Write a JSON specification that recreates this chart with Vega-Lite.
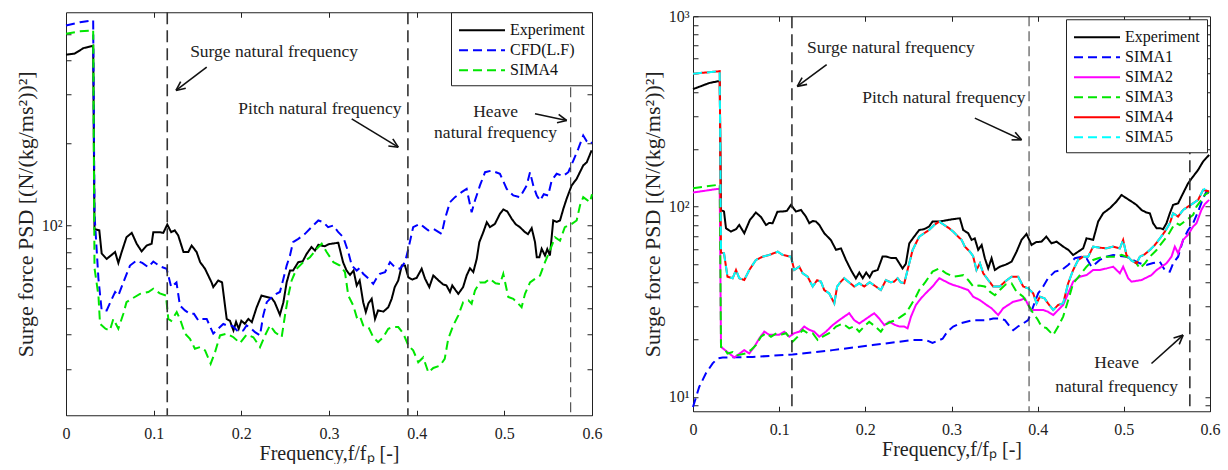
{
 "$schema": "https://vega.github.io/schema/vega-lite/v6.json",
 "background": "white",
 "padding": {"left": 13, "top": 7, "right": 0, "bottom": 0},
 "spacing": 37,
 "center": true,
 "config": {
  "font": "Liberation Serif",
  "view": {"stroke": "#222", "strokeWidth": 1},
  "axis": {"domain": false, "grid": false, "tickColor": "#222", "tickSize": -5, "tickWidth": 1, "labelFont": "Liberation Serif", "labelFontSize": 16, "labelColor": "#222", "titleFont": "Liberation Serif", "titleFontSize": 20, "titleFontWeight": "normal", "titleColor": "#222", "labelOverlap": false},
  "legend": {"title": null, "padding": 7, "strokeColor": "#222", "fillColor": "white", "symbolType": "M-2.3,0H2.3", "symbolSize": 400, "symbolStrokeWidth": 2, "labelFont": "Liberation Serif", "labelFontSize": 16, "labelColor": "#111", "labelOffset": 17, "symbolOffset": 13, "rowPadding": 1, "cornerRadius": 0}
 },
 "datasets": {
  "L": [
   {"s":"Experiment","f":0,"v":420},{"s":"Experiment","f":0.01,"v":424},{"s":"Experiment","f":0.02,"v":444},{"s":"Experiment","f":0.029,"v":451},{"s":"Experiment","f":0.031,"v":453},{"s":"Experiment","f":0.0325,"v":97},{"s":"Experiment","f":0.038,"v":96},{"s":"Experiment","f":0.0407,"v":79},{"s":"Experiment","f":0.0464,"v":75.5},{"s":"Experiment","f":0.056,"v":80},{"s":"Experiment","f":0.0597,"v":73},{"s":"Experiment","f":0.0635,"v":80},{"s":"Experiment","f":0.069,"v":90.6},{"s":"Experiment","f":0.075,"v":94},{"s":"Experiment","f":0.0806,"v":85.8},{"s":"Experiment","f":0.0863,"v":80.4},{"s":"Experiment","f":0.092,"v":84.5},{"s":"Experiment","f":0.0977,"v":85.8},{"s":"Experiment","f":0.0996,"v":94.5},{"s":"Experiment","f":0.107,"v":94.5},{"s":"Experiment","f":0.111,"v":94},{"s":"Experiment","f":0.1155,"v":100.8},{"s":"Experiment","f":0.12,"v":94.5},{"s":"Experiment","f":0.124,"v":96},{"s":"Experiment","f":0.128,"v":92},{"s":"Experiment","f":0.134,"v":80},{"s":"Experiment","f":0.1395,"v":80},{"s":"Experiment","f":0.1433,"v":84.5},{"s":"Experiment","f":0.149,"v":80},{"s":"Experiment","f":0.153,"v":73.5},{"s":"Experiment","f":0.1586,"v":69.5},{"s":"Experiment","f":0.166,"v":62},{"s":"Experiment","f":0.168,"v":59.6},{"s":"Experiment","f":0.1737,"v":63},{"s":"Experiment","f":0.178,"v":62},{"s":"Experiment","f":0.1833,"v":45.6},{"s":"Experiment","f":0.187,"v":44.9},{"s":"Experiment","f":0.191,"v":41.4},{"s":"Experiment","f":0.194,"v":44.5},{"s":"Experiment","f":0.197,"v":42},{"s":"Experiment","f":0.2,"v":44.9},{"s":"Experiment","f":0.204,"v":43.8},{"s":"Experiment","f":0.208,"v":45.6},{"s":"Experiment","f":0.212,"v":44.4},{"s":"Experiment","f":0.2175,"v":50.3},{"s":"Experiment","f":0.223,"v":55.5},{"s":"Experiment","f":0.2346,"v":54.3},{"s":"Experiment","f":0.238,"v":52.5},{"s":"Experiment","f":0.244,"v":47.2},{"s":"Experiment","f":0.248,"v":52.5},{"s":"Experiment","f":0.2517,"v":62},{"s":"Experiment","f":0.2555,"v":68.5},{"s":"Experiment","f":0.259,"v":68.5},{"s":"Experiment","f":0.265,"v":73.5},{"s":"Experiment","f":0.27,"v":74},{"s":"Experiment","f":0.2745,"v":78.8},{"s":"Experiment","f":0.28,"v":83.4},{"s":"Experiment","f":0.284,"v":81},{"s":"Experiment","f":0.2878,"v":85},{"s":"Experiment","f":0.295,"v":84},{"s":"Experiment","f":0.3,"v":85.5},{"s":"Experiment","f":0.305,"v":86},{"s":"Experiment","f":0.3106,"v":86.5},{"s":"Experiment","f":0.316,"v":73.5},{"s":"Experiment","f":0.32,"v":68.5},{"s":"Experiment","f":0.324,"v":66},{"s":"Experiment","f":0.328,"v":68.5},{"s":"Experiment","f":0.3316,"v":60.4},{"s":"Experiment","f":0.335,"v":63},{"s":"Experiment","f":0.339,"v":52.5},{"s":"Experiment","f":0.342,"v":48.3},{"s":"Experiment","f":0.345,"v":52},{"s":"Experiment","f":0.3487,"v":54},{"s":"Experiment","f":0.3525,"v":45.6},{"s":"Experiment","f":0.356,"v":49},{"s":"Experiment","f":0.362,"v":48.5},{"s":"Experiment","f":0.3676,"v":50.3},{"s":"Experiment","f":0.3715,"v":54},{"s":"Experiment","f":0.375,"v":59.6},{"s":"Experiment","f":0.379,"v":63},{"s":"Experiment","f":0.383,"v":71.4},{"s":"Experiment","f":0.3867,"v":71.4},{"s":"Experiment","f":0.3905,"v":64.7},{"s":"Experiment","f":0.395,"v":63.5},{"s":"Experiment","f":0.4,"v":64.4},{"s":"Experiment","f":0.4057,"v":69.5},{"s":"Experiment","f":0.4095,"v":64},{"s":"Experiment","f":0.4144,"v":59.6},{"s":"Experiment","f":0.419,"v":65.7},{"s":"Experiment","f":0.425,"v":63},{"s":"Experiment","f":0.43,"v":61},{"s":"Experiment","f":0.434,"v":60.4},{"s":"Experiment","f":0.438,"v":57.2},{"s":"Experiment","f":0.4406,"v":60.4},{"s":"Experiment","f":0.4445,"v":58},{"s":"Experiment","f":0.4475,"v":56.3},{"s":"Experiment","f":0.453,"v":59.6},{"s":"Experiment","f":0.457,"v":65.7},{"s":"Experiment","f":0.4608,"v":69.8},{"s":"Experiment","f":0.4646,"v":67.6},{"s":"Experiment","f":0.4685,"v":75.5},{"s":"Experiment","f":0.4715,"v":87},{"s":"Experiment","f":0.476,"v":94.5},{"s":"Experiment","f":0.48,"v":102.8},{"s":"Experiment","f":0.4836,"v":98.6},{"s":"Experiment","f":0.4893,"v":101.4},{"s":"Experiment","f":0.495,"v":110.3},{"s":"Experiment","f":0.4988,"v":114.4},{"s":"Experiment","f":0.5034,"v":112.5},{"s":"Experiment","f":0.5084,"v":105.8},{"s":"Experiment","f":0.513,"v":101},{"s":"Experiment","f":0.5178,"v":98.6},{"s":"Experiment","f":0.5236,"v":94.5},{"s":"Experiment","f":0.527,"v":93},{"s":"Experiment","f":0.5312,"v":97.8},{"s":"Experiment","f":0.535,"v":87},{"s":"Experiment","f":0.537,"v":76.6},{"s":"Experiment","f":0.54,"v":76.6},{"s":"Experiment","f":0.5426,"v":82.2},{"s":"Experiment","f":0.5464,"v":77.7},{"s":"Experiment","f":0.549,"v":82},{"s":"Experiment","f":0.552,"v":77.7},{"s":"Experiment","f":0.5558,"v":104.3},{"s":"Experiment","f":0.5597,"v":103},{"s":"Experiment","f":0.5635,"v":104.3},{"s":"Experiment","f":0.5673,"v":115},{"s":"Experiment","f":0.571,"v":125},{"s":"Experiment","f":0.5768,"v":140},{"s":"Experiment","f":0.5825,"v":148},{"s":"Experiment","f":0.586,"v":156},{"s":"Experiment","f":0.59,"v":165.6},{"s":"Experiment","f":0.594,"v":170},{"s":"Experiment","f":0.5996,"v":188},
   {"s":"CFD(L.F)","f":0,"v":537},{"s":"CFD(L.F)","f":0.016,"v":552},{"s":"CFD(L.F)","f":0.029,"v":560},{"s":"CFD(L.F)","f":0.031,"v":561},{"s":"CFD(L.F)","f":0.0325,"v":110},{"s":"CFD(L.F)","f":0.037,"v":63.9},{"s":"CFD(L.F)","f":0.0407,"v":49},{"s":"CFD(L.F)","f":0.0464,"v":49},{"s":"CFD(L.F)","f":0.05,"v":52},{"s":"CFD(L.F)","f":0.056,"v":57.2},{"s":"CFD(L.F)","f":0.0597,"v":55.5},{"s":"CFD(L.F)","f":0.0654,"v":62},{"s":"CFD(L.F)","f":0.073,"v":71.4},{"s":"CFD(L.F)","f":0.0806,"v":74.5},{"s":"CFD(L.F)","f":0.087,"v":73},{"s":"CFD(L.F)","f":0.0939,"v":70.4},{"s":"CFD(L.F)","f":0.0996,"v":73.9},{"s":"CFD(L.F)","f":0.107,"v":71},{"s":"CFD(L.F)","f":0.1148,"v":69.5},{"s":"CFD(L.F)","f":0.12,"v":59.6},{"s":"CFD(L.F)","f":0.126,"v":62},{"s":"CFD(L.F)","f":0.13,"v":51},{"s":"CFD(L.F)","f":0.1357,"v":49},{"s":"CFD(L.F)","f":0.1414,"v":47.6},{"s":"CFD(L.F)","f":0.146,"v":47.6},{"s":"CFD(L.F)","f":0.151,"v":45},{"s":"CFD(L.F)","f":0.1555,"v":45.6},{"s":"CFD(L.F)","f":0.1605,"v":45.6},{"s":"CFD(L.F)","f":0.168,"v":40.3},{"s":"CFD(L.F)","f":0.1737,"v":42},{"s":"CFD(L.F)","f":0.1794,"v":43.7},{"s":"CFD(L.F)","f":0.1833,"v":43.2},{"s":"CFD(L.F)","f":0.19,"v":43},{"s":"CFD(L.F)","f":0.1965,"v":41},{"s":"CFD(L.F)","f":0.2022,"v":41.4},{"s":"CFD(L.F)","f":0.206,"v":43.2},{"s":"CFD(L.F)","f":0.2115,"v":42},{"s":"CFD(L.F)","f":0.2156,"v":40.8},{"s":"CFD(L.F)","f":0.2213,"v":39.7},{"s":"CFD(L.F)","f":0.225,"v":47},{"s":"CFD(L.F)","f":0.229,"v":52.5},{"s":"CFD(L.F)","f":0.2365,"v":55.5},{"s":"CFD(L.F)","f":0.244,"v":57.2},{"s":"CFD(L.F)","f":0.248,"v":63.9},{"s":"CFD(L.F)","f":0.2517,"v":71.4},{"s":"CFD(L.F)","f":0.2555,"v":77.7},{"s":"CFD(L.F)","f":0.259,"v":87},{"s":"CFD(L.F)","f":0.265,"v":89.4},{"s":"CFD(L.F)","f":0.2726,"v":93.2},{"s":"CFD(L.F)","f":0.28,"v":98.6},{"s":"CFD(L.F)","f":0.2878,"v":104.3},{"s":"CFD(L.F)","f":0.2935,"v":102.8},{"s":"CFD(L.F)","f":0.299,"v":98.6},{"s":"CFD(L.F)","f":0.305,"v":100},{"s":"CFD(L.F)","f":0.3106,"v":94.5},{"s":"CFD(L.F)","f":0.3163,"v":90.6},{"s":"CFD(L.F)","f":0.322,"v":80},{"s":"CFD(L.F)","f":0.326,"v":71.4},{"s":"CFD(L.F)","f":0.3316,"v":68.5},{"s":"CFD(L.F)","f":0.335,"v":70},{"s":"CFD(L.F)","f":0.339,"v":66.6},{"s":"CFD(L.F)","f":0.345,"v":64},{"s":"CFD(L.F)","f":0.3505,"v":61.2},{"s":"CFD(L.F)","f":0.354,"v":64},{"s":"CFD(L.F)","f":0.358,"v":66.6},{"s":"CFD(L.F)","f":0.3639,"v":67.6},{"s":"CFD(L.F)","f":0.3696,"v":73.5},{"s":"CFD(L.F)","f":0.375,"v":70.5},{"s":"CFD(L.F)","f":0.381,"v":69.5},{"s":"CFD(L.F)","f":0.3867,"v":73.5},{"s":"CFD(L.F)","f":0.3905,"v":82.2},{"s":"CFD(L.F)","f":0.396,"v":98.6},{"s":"CFD(L.F)","f":0.4038,"v":101.4},{"s":"CFD(L.F)","f":0.4095,"v":98},{"s":"CFD(L.F)","f":0.4133,"v":95.9},{"s":"CFD(L.F)","f":0.419,"v":97.3},{"s":"CFD(L.F)","f":0.4285,"v":93.2},{"s":"CFD(L.F)","f":0.4323,"v":105.8},{"s":"CFD(L.F)","f":0.438,"v":121.6},{"s":"CFD(L.F)","f":0.4437,"v":126.9},{"s":"CFD(L.F)","f":0.4513,"v":132.3},{"s":"CFD(L.F)","f":0.457,"v":136},{"s":"CFD(L.F)","f":0.4627,"v":111.8},{"s":"CFD(L.F)","f":0.4665,"v":123.3},{"s":"CFD(L.F)","f":0.4722,"v":140},{"s":"CFD(L.F)","f":0.478,"v":156.5},{"s":"CFD(L.F)","f":0.4856,"v":158.6},{"s":"CFD(L.F)","f":0.495,"v":154.4},{"s":"CFD(L.F)","f":0.5027,"v":136},{"s":"CFD(L.F)","f":0.5102,"v":128.7},{"s":"CFD(L.F)","f":0.5178,"v":126.9},{"s":"CFD(L.F)","f":0.5255,"v":140},{"s":"CFD(L.F)","f":0.5293,"v":156.5},{"s":"CFD(L.F)","f":0.533,"v":140},{"s":"CFD(L.F)","f":0.537,"v":128.7},{"s":"CFD(L.F)","f":0.5407,"v":123.3},{"s":"CFD(L.F)","f":0.545,"v":130},{"s":"CFD(L.F)","f":0.55,"v":128.7},{"s":"CFD(L.F)","f":0.554,"v":146},{"s":"CFD(L.F)","f":0.5597,"v":154.4},{"s":"CFD(L.F)","f":0.567,"v":151.5},{"s":"CFD(L.F)","f":0.573,"v":156.5},{"s":"CFD(L.F)","f":0.5787,"v":172.6},{"s":"CFD(L.F)","f":0.5844,"v":190.6},{"s":"CFD(L.F)","f":0.59,"v":213},{"s":"CFD(L.F)","f":0.594,"v":203},{"s":"CFD(L.F)","f":0.5977,"v":198.5},{"s":"CFD(L.F)","f":0.6,"v":201},
   {"s":"SIMA4","f":0,"v":501},{"s":"SIMA4","f":0.016,"v":511},{"s":"SIMA4","f":0.029,"v":515},{"s":"SIMA4","f":0.031,"v":516},{"s":"SIMA4","f":0.0325,"v":70},{"s":"SIMA4","f":0.037,"v":55.5},{"s":"SIMA4","f":0.0388,"v":43.8},{"s":"SIMA4","f":0.045,"v":42},{"s":"SIMA4","f":0.05,"v":41.4},{"s":"SIMA4","f":0.054,"v":45.6},{"s":"SIMA4","f":0.0597,"v":42},{"s":"SIMA4","f":0.0654,"v":47.6},{"s":"SIMA4","f":0.069,"v":52.5},{"s":"SIMA4","f":0.075,"v":54},{"s":"SIMA4","f":0.0844,"v":56.3},{"s":"SIMA4","f":0.0939,"v":57.2},{"s":"SIMA4","f":0.0996,"v":58.8},{"s":"SIMA4","f":0.107,"v":56.5},{"s":"SIMA4","f":0.114,"v":55.5},{"s":"SIMA4","f":0.1167,"v":45.6},{"s":"SIMA4","f":0.12,"v":44.9},{"s":"SIMA4","f":0.1263,"v":48.3},{"s":"SIMA4","f":0.13,"v":45.6},{"s":"SIMA4","f":0.1357,"v":40.3},{"s":"SIMA4","f":0.1414,"v":38.6},{"s":"SIMA4","f":0.147,"v":35.5},{"s":"SIMA4","f":0.153,"v":36},{"s":"SIMA4","f":0.1586,"v":35},{"s":"SIMA4","f":0.165,"v":31.3},{"s":"SIMA4","f":0.17,"v":34.5},{"s":"SIMA4","f":0.1757,"v":39.7},{"s":"SIMA4","f":0.1833,"v":40.3},{"s":"SIMA4","f":0.191,"v":39.1},{"s":"SIMA4","f":0.1985,"v":37.2},{"s":"SIMA4","f":0.206,"v":40},{"s":"SIMA4","f":0.2137,"v":39.1},{"s":"SIMA4","f":0.2213,"v":36},{"s":"SIMA4","f":0.227,"v":39.7},{"s":"SIMA4","f":0.2327,"v":43.2},{"s":"SIMA4","f":0.2384,"v":40.8},{"s":"SIMA4","f":0.246,"v":39.1},{"s":"SIMA4","f":0.2498,"v":47},{"s":"SIMA4","f":0.2536,"v":55.5},{"s":"SIMA4","f":0.2574,"v":63},{"s":"SIMA4","f":0.263,"v":69.5},{"s":"SIMA4","f":0.2707,"v":73.5},{"s":"SIMA4","f":0.2783,"v":76.6},{"s":"SIMA4","f":0.286,"v":82.2},{"s":"SIMA4","f":0.2917,"v":85.8},{"s":"SIMA4","f":0.2973,"v":80},{"s":"SIMA4","f":0.305,"v":73.5},{"s":"SIMA4","f":0.3125,"v":71.4},{"s":"SIMA4","f":0.3182,"v":67.6},{"s":"SIMA4","f":0.322,"v":55.5},{"s":"SIMA4","f":0.3277,"v":51},{"s":"SIMA4","f":0.3316,"v":46.3},{"s":"SIMA4","f":0.335,"v":47},{"s":"SIMA4","f":0.339,"v":43.2},{"s":"SIMA4","f":0.345,"v":42.6},{"s":"SIMA4","f":0.3505,"v":39.1},{"s":"SIMA4","f":0.356,"v":37.5},{"s":"SIMA4","f":0.362,"v":39.1},{"s":"SIMA4","f":0.3676,"v":42},{"s":"SIMA4","f":0.373,"v":42.6},{"s":"SIMA4","f":0.379,"v":42.6},{"s":"SIMA4","f":0.3848,"v":40.3},{"s":"SIMA4","f":0.3905,"v":36.5},{"s":"SIMA4","f":0.396,"v":35},{"s":"SIMA4","f":0.4018,"v":31.7},{"s":"SIMA4","f":0.4075,"v":33},{"s":"SIMA4","f":0.4133,"v":29.1},{"s":"SIMA4","f":0.419,"v":30.2},{"s":"SIMA4","f":0.4266,"v":30.8},{"s":"SIMA4","f":0.432,"v":32.6},{"s":"SIMA4","f":0.436,"v":38.6},{"s":"SIMA4","f":0.4418,"v":43.2},{"s":"SIMA4","f":0.4475,"v":47},{"s":"SIMA4","f":0.453,"v":52.5},{"s":"SIMA4","f":0.459,"v":53.3},{"s":"SIMA4","f":0.4627,"v":51.8},{"s":"SIMA4","f":0.4665,"v":57.9},{"s":"SIMA4","f":0.472,"v":62},{"s":"SIMA4","f":0.478,"v":62},{"s":"SIMA4","f":0.4836,"v":63.9},{"s":"SIMA4","f":0.49,"v":61.5},{"s":"SIMA4","f":0.495,"v":61.2},{"s":"SIMA4","f":0.4988,"v":66.6},{"s":"SIMA4","f":0.5045,"v":54.8},{"s":"SIMA4","f":0.5102,"v":54},{"s":"SIMA4","f":0.5155,"v":52},{"s":"SIMA4","f":0.5197,"v":50.3},{"s":"SIMA4","f":0.5236,"v":56.3},{"s":"SIMA4","f":0.5293,"v":62},{"s":"SIMA4","f":0.535,"v":63.9},{"s":"SIMA4","f":0.5407,"v":65.7},{"s":"SIMA4","f":0.5464,"v":73.5},{"s":"SIMA4","f":0.552,"v":81.1},{"s":"SIMA4","f":0.5578,"v":90.6},{"s":"SIMA4","f":0.5635,"v":88},{"s":"SIMA4","f":0.569,"v":98.6},{"s":"SIMA4","f":0.577,"v":101.4},{"s":"SIMA4","f":0.5825,"v":104.3},{"s":"SIMA4","f":0.5863,"v":118.3},{"s":"SIMA4","f":0.59,"v":126.9},{"s":"SIMA4","f":0.5977,"v":121.6},{"s":"SIMA4","f":0.6,"v":130}
  ],
  "R": [
   {"s":"Experiment","f":0,"v":414},{"s":"Experiment","f":0.019,"v":446},{"s":"Experiment","f":0.0286,"v":455},{"s":"Experiment","f":0.031,"v":456},{"s":"Experiment","f":0.0325,"v":96},{"s":"Experiment","f":0.036,"v":94.1},{"s":"Experiment","f":0.0383,"v":76.9},{"s":"Experiment","f":0.044,"v":73.9},{"s":"Experiment","f":0.0499,"v":76},{"s":"Experiment","f":0.0537,"v":80},{"s":"Experiment","f":0.0595,"v":72.4},{"s":"Experiment","f":0.066,"v":85},{"s":"Experiment","f":0.073,"v":93},{"s":"Experiment","f":0.079,"v":88},{"s":"Experiment","f":0.0847,"v":80},{"s":"Experiment","f":0.0885,"v":82},{"s":"Experiment","f":0.0924,"v":81.7},{"s":"Experiment","f":0.098,"v":94},{"s":"Experiment","f":0.104,"v":94.1},{"s":"Experiment","f":0.109,"v":95},{"s":"Experiment","f":0.1137,"v":102},{"s":"Experiment","f":0.1195,"v":94.1},{"s":"Experiment","f":0.1253,"v":96},{"s":"Experiment","f":0.131,"v":88.6},{"s":"Experiment","f":0.135,"v":81.7},{"s":"Experiment","f":0.139,"v":84},{"s":"Experiment","f":0.1427,"v":83.4},{"s":"Experiment","f":0.1466,"v":80},{"s":"Experiment","f":0.1523,"v":72.4},{"s":"Experiment","f":0.16,"v":66.7},{"s":"Experiment","f":0.166,"v":59.2},{"s":"Experiment","f":0.1717,"v":60.3},{"s":"Experiment","f":0.1775,"v":52.4},{"s":"Experiment","f":0.1833,"v":46.4},{"s":"Experiment","f":0.189,"v":41.9},{"s":"Experiment","f":0.193,"v":45},{"s":"Experiment","f":0.197,"v":42},{"s":"Experiment","f":0.201,"v":45},{"s":"Experiment","f":0.205,"v":42.5},{"s":"Experiment","f":0.2085,"v":45.5},{"s":"Experiment","f":0.2143,"v":46.4},{"s":"Experiment","f":0.22,"v":54.6},{"s":"Experiment","f":0.2239,"v":54.6},{"s":"Experiment","f":0.2297,"v":53.7},{"s":"Experiment","f":0.2355,"v":53.7},{"s":"Experiment","f":0.2432,"v":47.3},{"s":"Experiment","f":0.247,"v":50},{"s":"Experiment","f":0.251,"v":64.1},{"s":"Experiment","f":0.2567,"v":69.5},{"s":"Experiment","f":0.2625,"v":75.3},{"s":"Experiment","f":0.268,"v":76},{"s":"Experiment","f":0.274,"v":78.5},{"s":"Experiment","f":0.278,"v":83.4},{"s":"Experiment","f":0.2858,"v":83.4},{"s":"Experiment","f":0.293,"v":84.5},{"s":"Experiment","f":0.3013,"v":85.8},{"s":"Experiment","f":0.3097,"v":86.8},{"s":"Experiment","f":0.3136,"v":75.3},{"s":"Experiment","f":0.3194,"v":72.4},{"s":"Experiment","f":0.3233,"v":66.8},{"s":"Experiment","f":0.327,"v":68},{"s":"Experiment","f":0.331,"v":59.2},{"s":"Experiment","f":0.335,"v":62.8},{"s":"Experiment","f":0.3387,"v":53.5},{"s":"Experiment","f":0.3426,"v":47.3},{"s":"Experiment","f":0.3465,"v":53.5},{"s":"Experiment","f":0.3503,"v":46.4},{"s":"Experiment","f":0.3561,"v":48.3},{"s":"Experiment","f":0.363,"v":49.5},{"s":"Experiment","f":0.3697,"v":51.3},{"s":"Experiment","f":0.3755,"v":57.9},{"s":"Experiment","f":0.3813,"v":66.8},{"s":"Experiment","f":0.387,"v":71.8},{"s":"Experiment","f":0.3929,"v":62.8},{"s":"Experiment","f":0.398,"v":65},{"s":"Experiment","f":0.4045,"v":65.4},{"s":"Experiment","f":0.41,"v":69.5},{"s":"Experiment","f":0.416,"v":64.1},{"s":"Experiment","f":0.422,"v":65.4},{"s":"Experiment","f":0.4296,"v":61.6},{"s":"Experiment","f":0.436,"v":59},{"s":"Experiment","f":0.4412,"v":55.6},{"s":"Experiment","f":0.447,"v":57.9},{"s":"Experiment","f":0.4528,"v":60.3},{"s":"Experiment","f":0.4567,"v":68.1},{"s":"Experiment","f":0.4644,"v":66.8},{"s":"Experiment","f":0.4702,"v":83.4},{"s":"Experiment","f":0.476,"v":92.2},{"s":"Experiment","f":0.4838,"v":98},{"s":"Experiment","f":0.4915,"v":106.3},{"s":"Experiment","f":0.4973,"v":115},{"s":"Experiment","f":0.503,"v":110.6},{"s":"Experiment","f":0.5089,"v":106.3},{"s":"Experiment","f":0.5147,"v":102},{"s":"Experiment","f":0.5205,"v":96},{"s":"Experiment","f":0.526,"v":93},{"s":"Experiment","f":0.5302,"v":92.2},{"s":"Experiment","f":0.534,"v":81.7},{"s":"Experiment","f":0.538,"v":76.9},{"s":"Experiment","f":0.542,"v":77},{"s":"Experiment","f":0.5456,"v":76},{"s":"Experiment","f":0.5495,"v":81.7},{"s":"Experiment","f":0.5534,"v":92.2},{"s":"Experiment","f":0.5572,"v":102},{"s":"Experiment","f":0.563,"v":104},{"s":"Experiment","f":0.5688,"v":117.5},{"s":"Experiment","f":0.5746,"v":132.6},{"s":"Experiment","f":0.5804,"v":143.8},{"s":"Experiment","f":0.5862,"v":155.8},{"s":"Experiment","f":0.592,"v":172.5},{"s":"Experiment","f":0.599,"v":186.9},
   {"s":"SIMA1","f":0,"v":8.85},{"s":"SIMA1","f":0.0073,"v":11.3},{"s":"SIMA1","f":0.015,"v":13.3},{"s":"SIMA1","f":0.0228,"v":15},{"s":"SIMA1","f":0.0286,"v":15.9},{"s":"SIMA1","f":0.0345,"v":16.1},{"s":"SIMA1","f":0.069,"v":16.2},{"s":"SIMA1","f":0.1156,"v":16.7},{"s":"SIMA1","f":0.162,"v":17.6},{"s":"SIMA1","f":0.2085,"v":18.7},{"s":"SIMA1","f":0.2549,"v":19.9},{"s":"SIMA1","f":0.27,"v":19.9},{"s":"SIMA1","f":0.278,"v":19.2},{"s":"SIMA1","f":0.2897,"v":20.2},{"s":"SIMA1","f":0.294,"v":21.6},{"s":"SIMA1","f":0.2973,"v":22.4},{"s":"SIMA1","f":0.302,"v":23.4},{"s":"SIMA1","f":0.3097,"v":24.3},{"s":"SIMA1","f":0.3252,"v":25.3},{"s":"SIMA1","f":0.3407,"v":25.3},{"s":"SIMA1","f":0.3484,"v":25.8},{"s":"SIMA1","f":0.3561,"v":25.8},{"s":"SIMA1","f":0.362,"v":25.3},{"s":"SIMA1","f":0.3677,"v":23.4},{"s":"SIMA1","f":0.3716,"v":22.4},{"s":"SIMA1","f":0.3775,"v":23.5},{"s":"SIMA1","f":0.3832,"v":24.3},{"s":"SIMA1","f":0.389,"v":25.3},{"s":"SIMA1","f":0.3948,"v":29.8},{"s":"SIMA1","f":0.4006,"v":35},{"s":"SIMA1","f":0.4064,"v":38},{"s":"SIMA1","f":0.412,"v":42},{"s":"SIMA1","f":0.42,"v":45.5},{"s":"SIMA1","f":0.4277,"v":46.4},{"s":"SIMA1","f":0.4354,"v":49.3},{"s":"SIMA1","f":0.4432,"v":53.5},{"s":"SIMA1","f":0.4509,"v":54.5},{"s":"SIMA1","f":0.4567,"v":53.5},{"s":"SIMA1","f":0.4625,"v":48.3},{"s":"SIMA1","f":0.466,"v":49.5},{"s":"SIMA1","f":0.472,"v":52.4},{"s":"SIMA1","f":0.48,"v":54.5},{"s":"SIMA1","f":0.4876,"v":55.7},{"s":"SIMA1","f":0.495,"v":55},{"s":"SIMA1","f":0.503,"v":54.5},{"s":"SIMA1","f":0.5108,"v":52.4},{"s":"SIMA1","f":0.5186,"v":50.3},{"s":"SIMA1","f":0.5263,"v":49.3},{"s":"SIMA1","f":0.534,"v":50.5},{"s":"SIMA1","f":0.5418,"v":51.3},{"s":"SIMA1","f":0.548,"v":46},{"s":"SIMA1","f":0.5534,"v":45.5},{"s":"SIMA1","f":0.5572,"v":50.3},{"s":"SIMA1","f":0.563,"v":54.5},{"s":"SIMA1","f":0.5688,"v":66.8},{"s":"SIMA1","f":0.5746,"v":75.3},{"s":"SIMA1","f":0.5804,"v":81.7},{"s":"SIMA1","f":0.5862,"v":94.1},{"s":"SIMA1","f":0.592,"v":110.6},{"s":"SIMA1","f":0.596,"v":120},{"s":"SIMA1","f":0.599,"v":115},
   {"s":"SIMA2","f":0,"v":118.5},{"s":"SIMA2","f":0.0286,"v":123.8},{"s":"SIMA2","f":0.031,"v":124},{"s":"SIMA2","f":0.0325,"v":18.3},{"s":"SIMA2","f":0.042,"v":16.9},{"s":"SIMA2","f":0.048,"v":16.1},{"s":"SIMA2","f":0.0595,"v":17.6},{"s":"SIMA2","f":0.0653,"v":16.9},{"s":"SIMA2","f":0.0711,"v":18.3},{"s":"SIMA2","f":0.077,"v":20.3},{"s":"SIMA2","f":0.0827,"v":22},{"s":"SIMA2","f":0.0885,"v":21.2},{"s":"SIMA2","f":0.1,"v":21.2},{"s":"SIMA2","f":0.106,"v":22},{"s":"SIMA2","f":0.1117,"v":20.7},{"s":"SIMA2","f":0.1175,"v":21.6},{"s":"SIMA2","f":0.1233,"v":22},{"s":"SIMA2","f":0.1291,"v":23.4},{"s":"SIMA2","f":0.135,"v":22.5},{"s":"SIMA2","f":0.1407,"v":22},{"s":"SIMA2","f":0.1466,"v":20.7},{"s":"SIMA2","f":0.1543,"v":22},{"s":"SIMA2","f":0.162,"v":23.8},{"s":"SIMA2","f":0.1697,"v":25.3},{"s":"SIMA2","f":0.1755,"v":26.4},{"s":"SIMA2","f":0.1813,"v":27.5},{"s":"SIMA2","f":0.1871,"v":25.3},{"s":"SIMA2","f":0.1929,"v":24.3},{"s":"SIMA2","f":0.1987,"v":25.3},{"s":"SIMA2","f":0.2045,"v":26.4},{"s":"SIMA2","f":0.2103,"v":27.5},{"s":"SIMA2","f":0.2161,"v":25.8},{"s":"SIMA2","f":0.222,"v":23.8},{"s":"SIMA2","f":0.2277,"v":24.8},{"s":"SIMA2","f":0.235,"v":23.8},{"s":"SIMA2","f":0.24,"v":23.4},{"s":"SIMA2","f":0.2451,"v":23.4},{"s":"SIMA2","f":0.249,"v":22.9},{"s":"SIMA2","f":0.253,"v":26.4},{"s":"SIMA2","f":0.2587,"v":30.4},{"s":"SIMA2","f":0.2645,"v":32.9},{"s":"SIMA2","f":0.27,"v":35},{"s":"SIMA2","f":0.278,"v":38},{"s":"SIMA2","f":0.2858,"v":42},{"s":"SIMA2","f":0.2973,"v":39.5},{"s":"SIMA2","f":0.302,"v":38.7},{"s":"SIMA2","f":0.308,"v":38},{"s":"SIMA2","f":0.3136,"v":37.2},{"s":"SIMA2","f":0.3194,"v":36.4},{"s":"SIMA2","f":0.3252,"v":33.6},{"s":"SIMA2","f":0.333,"v":32.2},{"s":"SIMA2","f":0.3407,"v":30.4},{"s":"SIMA2","f":0.3465,"v":29.2},{"s":"SIMA2","f":0.3542,"v":26.9},{"s":"SIMA2","f":0.36,"v":29.2},{"s":"SIMA2","f":0.3716,"v":31.6},{"s":"SIMA2","f":0.3794,"v":32.2},{"s":"SIMA2","f":0.3851,"v":32.9},{"s":"SIMA2","f":0.389,"v":30.4},{"s":"SIMA2","f":0.3929,"v":28.6},{"s":"SIMA2","f":0.4064,"v":28.6},{"s":"SIMA2","f":0.412,"v":28},{"s":"SIMA2","f":0.418,"v":26.9},{"s":"SIMA2","f":0.4238,"v":28.6},{"s":"SIMA2","f":0.4296,"v":30.4},{"s":"SIMA2","f":0.4354,"v":35},{"s":"SIMA2","f":0.4412,"v":40.3},{"s":"SIMA2","f":0.449,"v":42.8},{"s":"SIMA2","f":0.4567,"v":43.6},{"s":"SIMA2","f":0.4644,"v":46.4},{"s":"SIMA2","f":0.472,"v":46.4},{"s":"SIMA2","f":0.48,"v":47.3},{"s":"SIMA2","f":0.4876,"v":48.3},{"s":"SIMA2","f":0.4954,"v":44.6},{"s":"SIMA2","f":0.4992,"v":48.3},{"s":"SIMA2","f":0.505,"v":42},{"s":"SIMA2","f":0.5089,"v":40.3},{"s":"SIMA2","f":0.5205,"v":41.1},{"s":"SIMA2","f":0.532,"v":43.6},{"s":"SIMA2","f":0.538,"v":46.4},{"s":"SIMA2","f":0.5495,"v":50.3},{"s":"SIMA2","f":0.5553,"v":54.5},{"s":"SIMA2","f":0.5592,"v":61.6},{"s":"SIMA2","f":0.563,"v":56.8},{"s":"SIMA2","f":0.5688,"v":66.8},{"s":"SIMA2","f":0.5746,"v":71.2},{"s":"SIMA2","f":0.5804,"v":78.5},{"s":"SIMA2","f":0.5843,"v":81.7},{"s":"SIMA2","f":0.59,"v":96},{"s":"SIMA2","f":0.594,"v":103},{"s":"SIMA2","f":0.599,"v":108.4},
   {"s":"SIMA3","f":0,"v":124.8},{"s":"SIMA3","f":0.0286,"v":130},{"s":"SIMA3","f":0.031,"v":131},{"s":"SIMA3","f":0.0325,"v":18.3},{"s":"SIMA3","f":0.036,"v":18},{"s":"SIMA3","f":0.04,"v":16.9},{"s":"SIMA3","f":0.046,"v":17.2},{"s":"SIMA3","f":0.05,"v":16.5},{"s":"SIMA3","f":0.0615,"v":16.9},{"s":"SIMA3","f":0.067,"v":17.6},{"s":"SIMA3","f":0.073,"v":18.7},{"s":"SIMA3","f":0.0789,"v":20.7},{"s":"SIMA3","f":0.0847,"v":21.6},{"s":"SIMA3","f":0.0905,"v":20.7},{"s":"SIMA3","f":0.097,"v":21.6},{"s":"SIMA3","f":0.103,"v":21.3},{"s":"SIMA3","f":0.108,"v":21.6},{"s":"SIMA3","f":0.1156,"v":19.5},{"s":"SIMA3","f":0.1215,"v":20.7},{"s":"SIMA3","f":0.1273,"v":22.5},{"s":"SIMA3","f":0.133,"v":21.6},{"s":"SIMA3","f":0.1389,"v":21.6},{"s":"SIMA3","f":0.1447,"v":19.9},{"s":"SIMA3","f":0.1505,"v":20.7},{"s":"SIMA3","f":0.158,"v":21.6},{"s":"SIMA3","f":0.166,"v":23.4},{"s":"SIMA3","f":0.1737,"v":24.3},{"s":"SIMA3","f":0.1813,"v":22.9},{"s":"SIMA3","f":0.187,"v":23.5},{"s":"SIMA3","f":0.1929,"v":22},{"s":"SIMA3","f":0.1987,"v":23.4},{"s":"SIMA3","f":0.2045,"v":24.8},{"s":"SIMA3","f":0.211,"v":23.5},{"s":"SIMA3","f":0.218,"v":22},{"s":"SIMA3","f":0.2239,"v":24},{"s":"SIMA3","f":0.2297,"v":24.8},{"s":"SIMA3","f":0.2355,"v":25.3},{"s":"SIMA3","f":0.2413,"v":26.4},{"s":"SIMA3","f":0.2471,"v":27.5},{"s":"SIMA3","f":0.253,"v":30.4},{"s":"SIMA3","f":0.2587,"v":33.6},{"s":"SIMA3","f":0.2625,"v":36.4},{"s":"SIMA3","f":0.27,"v":40.3},{"s":"SIMA3","f":0.278,"v":45.5},{"s":"SIMA3","f":0.2858,"v":47.3},{"s":"SIMA3","f":0.294,"v":44.5},{"s":"SIMA3","f":0.302,"v":42.8},{"s":"SIMA3","f":0.308,"v":43.2},{"s":"SIMA3","f":0.3136,"v":43.6},{"s":"SIMA3","f":0.3194,"v":41.1},{"s":"SIMA3","f":0.3252,"v":38},{"s":"SIMA3","f":0.332,"v":38.5},{"s":"SIMA3","f":0.3387,"v":38},{"s":"SIMA3","f":0.3445,"v":35.7},{"s":"SIMA3","f":0.3503,"v":34.2},{"s":"SIMA3","f":0.3561,"v":36.4},{"s":"SIMA3","f":0.363,"v":39},{"s":"SIMA3","f":0.3697,"v":39.5},{"s":"SIMA3","f":0.3755,"v":35.7},{"s":"SIMA3","f":0.3832,"v":33.6},{"s":"SIMA3","f":0.389,"v":30.4},{"s":"SIMA3","f":0.3948,"v":27.5},{"s":"SIMA3","f":0.4,"v":25.5},{"s":"SIMA3","f":0.4045,"v":23.4},{"s":"SIMA3","f":0.41,"v":23},{"s":"SIMA3","f":0.4141,"v":22},{"s":"SIMA3","f":0.418,"v":21.1},{"s":"SIMA3","f":0.4238,"v":23.4},{"s":"SIMA3","f":0.4296,"v":26.4},{"s":"SIMA3","f":0.4354,"v":32.2},{"s":"SIMA3","f":0.4412,"v":39.5},{"s":"SIMA3","f":0.449,"v":43.6},{"s":"SIMA3","f":0.4567,"v":48.3},{"s":"SIMA3","f":0.4644,"v":52.4},{"s":"SIMA3","f":0.4702,"v":53.5},{"s":"SIMA3","f":0.476,"v":54.5},{"s":"SIMA3","f":0.4915,"v":54.5},{"s":"SIMA3","f":0.4973,"v":55.7},{"s":"SIMA3","f":0.503,"v":54.5},{"s":"SIMA3","f":0.509,"v":52.4},{"s":"SIMA3","f":0.5147,"v":50.3},{"s":"SIMA3","f":0.5186,"v":47.3},{"s":"SIMA3","f":0.5244,"v":50.3},{"s":"SIMA3","f":0.5302,"v":54.5},{"s":"SIMA3","f":0.538,"v":59.1},{"s":"SIMA3","f":0.5437,"v":64.1},{"s":"SIMA3","f":0.5514,"v":70.8},{"s":"SIMA3","f":0.5572,"v":78.5},{"s":"SIMA3","f":0.5611,"v":81.7},{"s":"SIMA3","f":0.565,"v":80},{"s":"SIMA3","f":0.5727,"v":85},{"s":"SIMA3","f":0.5804,"v":90.3},{"s":"SIMA3","f":0.5843,"v":100},{"s":"SIMA3","f":0.59,"v":108.4},{"s":"SIMA3","f":0.594,"v":115},{"s":"SIMA3","f":0.599,"v":120},
   {"s":"SIMA4","f":0,"v":499},{"s":"SIMA4","f":0.0286,"v":513},{"s":"SIMA4","f":0.031,"v":515},{"s":"SIMA4","f":0.0325,"v":57.3},{"s":"SIMA4","f":0.036,"v":56.8},{"s":"SIMA4","f":0.04,"v":42.8},{"s":"SIMA4","f":0.046,"v":42},{"s":"SIMA4","f":0.0499,"v":46.4},{"s":"SIMA4","f":0.0537,"v":42},{"s":"SIMA4","f":0.0595,"v":41.1},{"s":"SIMA4","f":0.0653,"v":46.4},{"s":"SIMA4","f":0.073,"v":52.4},{"s":"SIMA4","f":0.0808,"v":54.5},{"s":"SIMA4","f":0.0885,"v":55.7},{"s":"SIMA4","f":0.0983,"v":57.9},{"s":"SIMA4","f":0.104,"v":55.7},{"s":"SIMA4","f":0.1137,"v":54.5},{"s":"SIMA4","f":0.1175,"v":46.4},{"s":"SIMA4","f":0.1233,"v":48.3},{"s":"SIMA4","f":0.1273,"v":44.6},{"s":"SIMA4","f":0.133,"v":42.8},{"s":"SIMA4","f":0.1389,"v":38},{"s":"SIMA4","f":0.144,"v":41},{"s":"SIMA4","f":0.1485,"v":40.3},{"s":"SIMA4","f":0.1523,"v":36.4},{"s":"SIMA4","f":0.158,"v":35},{"s":"SIMA4","f":0.164,"v":31},{"s":"SIMA4","f":0.1673,"v":38},{"s":"SIMA4","f":0.171,"v":40},{"s":"SIMA4","f":0.1755,"v":42},{"s":"SIMA4","f":0.181,"v":40},{"s":"SIMA4","f":0.1871,"v":38},{"s":"SIMA4","f":0.193,"v":39.5},{"s":"SIMA4","f":0.1987,"v":38},{"s":"SIMA4","f":0.205,"v":40},{"s":"SIMA4","f":0.2123,"v":38},{"s":"SIMA4","f":0.218,"v":36.4},{"s":"SIMA4","f":0.2239,"v":41.1},{"s":"SIMA4","f":0.229,"v":40},{"s":"SIMA4","f":0.2335,"v":40.3},{"s":"SIMA4","f":0.2375,"v":42},{"s":"SIMA4","f":0.241,"v":40},{"s":"SIMA4","f":0.2452,"v":39.5},{"s":"SIMA4","f":0.249,"v":46.4},{"s":"SIMA4","f":0.2549,"v":59.1},{"s":"SIMA4","f":0.2587,"v":64.1},{"s":"SIMA4","f":0.2626,"v":69.5},{"s":"SIMA4","f":0.2683,"v":72.4},{"s":"SIMA4","f":0.274,"v":75.3},{"s":"SIMA4","f":0.28,"v":80},{"s":"SIMA4","f":0.2858,"v":83.4},{"s":"SIMA4","f":0.2915,"v":80},{"s":"SIMA4","f":0.2973,"v":76.9},{"s":"SIMA4","f":0.302,"v":73.8},{"s":"SIMA4","f":0.307,"v":70},{"s":"SIMA4","f":0.3117,"v":66.8},{"s":"SIMA4","f":0.3155,"v":61.6},{"s":"SIMA4","f":0.3213,"v":57.9},{"s":"SIMA4","f":0.325,"v":55},{"s":"SIMA4","f":0.329,"v":46.4},{"s":"SIMA4","f":0.333,"v":50.3},{"s":"SIMA4","f":0.3368,"v":44.6},{"s":"SIMA4","f":0.3426,"v":41.1},{"s":"SIMA4","f":0.3484,"v":38},{"s":"SIMA4","f":0.3561,"v":38},{"s":"SIMA4","f":0.362,"v":40.3},{"s":"SIMA4","f":0.3697,"v":42.8},{"s":"SIMA4","f":0.3774,"v":42.8},{"s":"SIMA4","f":0.3832,"v":38},{"s":"SIMA4","f":0.389,"v":37.2},{"s":"SIMA4","f":0.3948,"v":35},{"s":"SIMA4","f":0.3987,"v":31},{"s":"SIMA4","f":0.4026,"v":33.6},{"s":"SIMA4","f":0.408,"v":32.9},{"s":"SIMA4","f":0.412,"v":31},{"s":"SIMA4","f":0.418,"v":28.6},{"s":"SIMA4","f":0.4238,"v":30.4},{"s":"SIMA4","f":0.4296,"v":31},{"s":"SIMA4","f":0.4354,"v":39.5},{"s":"SIMA4","f":0.4412,"v":46.4},{"s":"SIMA4","f":0.447,"v":52.4},{"s":"SIMA4","f":0.4528,"v":54.5},{"s":"SIMA4","f":0.4586,"v":54.5},{"s":"SIMA4","f":0.4644,"v":61.6},{"s":"SIMA4","f":0.472,"v":60.8},{"s":"SIMA4","f":0.48,"v":60.3},{"s":"SIMA4","f":0.4876,"v":61.6},{"s":"SIMA4","f":0.4954,"v":60.3},{"s":"SIMA4","f":0.4992,"v":66.8},{"s":"SIMA4","f":0.503,"v":55.7},{"s":"SIMA4","f":0.509,"v":52},{"s":"SIMA4","f":0.5147,"v":50.3},{"s":"SIMA4","f":0.5186,"v":54.5},{"s":"SIMA4","f":0.524,"v":56},{"s":"SIMA4","f":0.5302,"v":59.1},{"s":"SIMA4","f":0.536,"v":62.8},{"s":"SIMA4","f":0.5418,"v":68},{"s":"SIMA4","f":0.5476,"v":73.8},{"s":"SIMA4","f":0.5534,"v":81.7},{"s":"SIMA4","f":0.5572,"v":92.2},{"s":"SIMA4","f":0.563,"v":88.6},{"s":"SIMA4","f":0.5688,"v":96},{"s":"SIMA4","f":0.5746,"v":100},{"s":"SIMA4","f":0.5804,"v":104},{"s":"SIMA4","f":0.5862,"v":108.4},{"s":"SIMA4","f":0.592,"v":122.3},{"s":"SIMA4","f":0.599,"v":120},
   {"s":"SIMA5","f":0,"v":499},{"s":"SIMA5","f":0.0286,"v":513},{"s":"SIMA5","f":0.031,"v":515},{"s":"SIMA5","f":0.0325,"v":57.3},{"s":"SIMA5","f":0.036,"v":56.8},{"s":"SIMA5","f":0.04,"v":42.8},{"s":"SIMA5","f":0.046,"v":42},{"s":"SIMA5","f":0.0499,"v":46.4},{"s":"SIMA5","f":0.0537,"v":42},{"s":"SIMA5","f":0.0595,"v":41.1},{"s":"SIMA5","f":0.0653,"v":46.4},{"s":"SIMA5","f":0.073,"v":52.4},{"s":"SIMA5","f":0.0808,"v":54.5},{"s":"SIMA5","f":0.0885,"v":55.7},{"s":"SIMA5","f":0.0983,"v":57.9},{"s":"SIMA5","f":0.104,"v":55.7},{"s":"SIMA5","f":0.1137,"v":54.5},{"s":"SIMA5","f":0.1175,"v":46.4},{"s":"SIMA5","f":0.1233,"v":48.3},{"s":"SIMA5","f":0.1273,"v":44.6},{"s":"SIMA5","f":0.133,"v":42.8},{"s":"SIMA5","f":0.1389,"v":38},{"s":"SIMA5","f":0.144,"v":41},{"s":"SIMA5","f":0.1485,"v":40.3},{"s":"SIMA5","f":0.1523,"v":36.4},{"s":"SIMA5","f":0.158,"v":35},{"s":"SIMA5","f":0.164,"v":31},{"s":"SIMA5","f":0.1673,"v":38},{"s":"SIMA5","f":0.171,"v":40},{"s":"SIMA5","f":0.1755,"v":42},{"s":"SIMA5","f":0.181,"v":40},{"s":"SIMA5","f":0.1871,"v":38},{"s":"SIMA5","f":0.193,"v":39.5},{"s":"SIMA5","f":0.1987,"v":38},{"s":"SIMA5","f":0.205,"v":40},{"s":"SIMA5","f":0.2123,"v":38},{"s":"SIMA5","f":0.218,"v":36.4},{"s":"SIMA5","f":0.2239,"v":41.1},{"s":"SIMA5","f":0.229,"v":40},{"s":"SIMA5","f":0.2335,"v":40.3},{"s":"SIMA5","f":0.2375,"v":42},{"s":"SIMA5","f":0.241,"v":40},{"s":"SIMA5","f":0.2452,"v":39.5},{"s":"SIMA5","f":0.249,"v":46.4},{"s":"SIMA5","f":0.2549,"v":59.1},{"s":"SIMA5","f":0.2587,"v":64.1},{"s":"SIMA5","f":0.2626,"v":69.5},{"s":"SIMA5","f":0.2683,"v":72.4},{"s":"SIMA5","f":0.274,"v":75.3},{"s":"SIMA5","f":0.28,"v":80},{"s":"SIMA5","f":0.2858,"v":83.4},{"s":"SIMA5","f":0.2915,"v":80},{"s":"SIMA5","f":0.2973,"v":76.9},{"s":"SIMA5","f":0.302,"v":73.8},{"s":"SIMA5","f":0.307,"v":70},{"s":"SIMA5","f":0.3117,"v":66.8},{"s":"SIMA5","f":0.3155,"v":61.6},{"s":"SIMA5","f":0.3213,"v":57.9},{"s":"SIMA5","f":0.325,"v":55},{"s":"SIMA5","f":0.329,"v":46.4},{"s":"SIMA5","f":0.333,"v":50.3},{"s":"SIMA5","f":0.3368,"v":44.6},{"s":"SIMA5","f":0.3426,"v":41.1},{"s":"SIMA5","f":0.3484,"v":38},{"s":"SIMA5","f":0.3561,"v":38},{"s":"SIMA5","f":0.362,"v":40.3},{"s":"SIMA5","f":0.3697,"v":42.8},{"s":"SIMA5","f":0.3774,"v":42.8},{"s":"SIMA5","f":0.3832,"v":38},{"s":"SIMA5","f":0.389,"v":37.2},{"s":"SIMA5","f":0.3948,"v":35},{"s":"SIMA5","f":0.3987,"v":31},{"s":"SIMA5","f":0.4026,"v":33.6},{"s":"SIMA5","f":0.408,"v":32.9},{"s":"SIMA5","f":0.412,"v":31},{"s":"SIMA5","f":0.418,"v":28.6},{"s":"SIMA5","f":0.4238,"v":30.4},{"s":"SIMA5","f":0.4296,"v":31},{"s":"SIMA5","f":0.4354,"v":39.5},{"s":"SIMA5","f":0.4412,"v":46.4},{"s":"SIMA5","f":0.447,"v":52.4},{"s":"SIMA5","f":0.4528,"v":54.5},{"s":"SIMA5","f":0.4586,"v":54.5},{"s":"SIMA5","f":0.4644,"v":61.6},{"s":"SIMA5","f":0.472,"v":60.8},{"s":"SIMA5","f":0.48,"v":60.3},{"s":"SIMA5","f":0.4876,"v":61.6},{"s":"SIMA5","f":0.4954,"v":60.3},{"s":"SIMA5","f":0.4992,"v":66.8},{"s":"SIMA5","f":0.503,"v":55.7},{"s":"SIMA5","f":0.509,"v":52},{"s":"SIMA5","f":0.5147,"v":50.3},{"s":"SIMA5","f":0.5186,"v":54.5},{"s":"SIMA5","f":0.524,"v":56},{"s":"SIMA5","f":0.5302,"v":59.1},{"s":"SIMA5","f":0.536,"v":62.8},{"s":"SIMA5","f":0.5418,"v":68},{"s":"SIMA5","f":0.5476,"v":73.8},{"s":"SIMA5","f":0.5534,"v":81.7},{"s":"SIMA5","f":0.5572,"v":92.2},{"s":"SIMA5","f":0.563,"v":88.6},{"s":"SIMA5","f":0.5688,"v":96},{"s":"SIMA5","f":0.5746,"v":100},{"s":"SIMA5","f":0.5804,"v":104},{"s":"SIMA5","f":0.5862,"v":108.4},{"s":"SIMA5","f":0.592,"v":122.3},{"s":"SIMA5","f":0.599,"v":128}
  ],
  "LA": [
   {"f":0.1605,"v":378,"f2":0.1255,"v2":311},{"f":0.1255,"v":311,"f2":0.1366,"v2":316.6},{"f":0.1255,"v":311,"f2":0.1308,"v2":334.9},
   {"f":0.3259,"v":245,"f2":0.379,"v2":193.1},{"f":0.379,"v":193.1,"f2":0.3728,"v2":207},{"f":0.379,"v":193.1,"f2":0.3677,"v2":194.9},
   {"f":0.535,"v":255.7,"f2":0.5711,"v2":241.6},{"f":0.5711,"v":241.6,"f2":0.562,"v2":254.2},{"f":0.5711,"v":241.6,"f2":0.5601,"v2":237}
  ],
  "RA": [
   {"f":0.1551,"v":556.3,"f2":0.121,"v2":428.2},{"f":0.121,"v":428.2,"f2":0.1324,"v2":438.6},{"f":0.121,"v":428.2,"f2":0.1266,"v2":476.3},
   {"f":0.3271,"v":291.5,"f2":0.3813,"v2":224.1},{"f":0.3813,"v":224.1,"f2":0.3739,"v2":245.8},{"f":0.3813,"v":224.1,"f2":0.3697,"v2":224.1},
   {"f":0.5321,"v":14.97,"f2":0.5688,"v2":21.1},{"f":0.5688,"v":21.1,"f2":0.5577,"v2":20.37},{"f":0.5688,"v":21.1,"f2":0.5643,"v2":18.87}
  ],
  "LT": [
   {"f":0.2373,"v":428,"t":"Surge natural frequency"},{"f":0.2897,"v":267,"t":"Pitch natural frequency"},{"f":0.49,"v":260,"t":"Heave"},{"f":0.49,"v":217,"t":"natural frequency"}
  ],
  "RT": [
   {"f":0.2297,"v":681,"t":"Surge natural frequency"},{"f":0.2912,"v":372,"t":"Pitch natural frequency"},{"f":0.4916,"v":15,"t":"Heave"},{"f":0.4916,"v":11.3,"t":"natural frequency"}
  ]
 },
 "resolve": {"scale": {"x": "independent", "y": "independent", "color": "independent", "strokeDash": "independent"}, "legend": {"color": "independent", "strokeDash": "independent"}},
 "hconcat": [
  {
   "width": 526, "height": 403,
   "resolve": {"axis": {"x": "independent", "y": "independent"}},
   "layer": [
    {
     "data": {"name": "L"},
     "mark": {"type": "line", "strokeWidth": 2},
     "encoding": {
      "x": {"field": "f", "type": "quantitative", "scale": {"domain": [0, 0.6], "nice": false, "zero": false}, "axis": {"orient": "bottom", "values": [0, 0.1, 0.2, 0.3, 0.4, 0.5, 0.6], "format": ".1~f", "labelFlush": false, "labelPadding": 15, "titlePadding": 2, "title": "Frequency,f/fₚ [-]"}},
      "y": {"field": "v", "type": "quantitative", "scale": {"type": "log", "domain": [20.3, 600], "nice": false}, "axis": {"orient": "left", "values": [30, 40, 50, 60, 70, 80, 90, 100, 200, 300, 400, 500], "labelExpr": "datum.value == 100 ? '10²' : ''", "labelPadding": 9, "titlePadding": 4, "titleFontSize": 22, "title": "Surge force PSD [(N/(kg/ms²))²]"}},
      "color": {"field": "s", "type": "nominal", "scale": {"domain": ["Experiment", "CFD(L.F)", "SIMA4"], "range": ["#000000", "#0000ff", "#00e600"]}, "legend": {"orient": "top-right", "offset": 0}},
      "strokeDash": {"field": "s", "type": "nominal", "scale": {"domain": ["Experiment", "CFD(L.F)", "SIMA4"], "range": [[1, 0], [9, 5], [9, 5]]}, "legend": {"orient": "top-right", "offset": 0}}
     }
    },
    {
     "data": {"values": [{"f": 0.1155}, {"f": 0.39}]},
     "mark": {"type": "rule", "color": "#333", "strokeWidth": 1.6, "strokeDash": [12, 6]},
     "encoding": {"x": {"field": "f", "type": "quantitative", "axis": null}}
    },
    {
     "data": {"values": [{"f": 0.5757}]},
     "mark": {"type": "rule", "color": "#333", "strokeWidth": 1, "strokeDash": [10, 5]},
     "encoding": {"x": {"field": "f", "type": "quantitative", "axis": null}}
    },
    {
     "data": {"name": "LA"},
     "mark": {"type": "rule", "color": "#111", "strokeWidth": 1.6},
     "encoding": {"x": {"field": "f", "type": "quantitative", "axis": null}, "y": {"field": "v", "type": "quantitative", "axis": null}, "x2": {"field": "f2"}, "y2": {"field": "v2"}}
    },
    {
     "data": {"name": "LT"},
     "mark": {"type": "text", "font": "Liberation Serif", "fontSize": 17.5, "color": "#222", "align": "center", "baseline": "middle"},
     "encoding": {"x": {"field": "f", "type": "quantitative", "axis": null}, "y": {"field": "v", "type": "quantitative", "axis": null}, "text": {"field": "t"}}
    },
    {
     "data": {"name": "L"},
     "mark": {"type": "point", "opacity": 0},
     "encoding": {
      "x": {"field": "f", "type": "quantitative", "axis": {"orient": "top", "values": [0.1, 0.2, 0.3, 0.4, 0.5], "labels": false, "title": null}},
      "y": {"field": "v", "type": "quantitative", "axis": {"orient": "right", "values": [30, 40, 50, 60, 70, 80, 90, 100, 200, 300, 400, 500], "labels": false, "title": null}}
     }
    }
   ]
  },
  {
   "width": 517, "height": 395,
   "resolve": {"axis": {"x": "independent", "y": "independent"}},
   "layer": [
    {
     "data": {"name": "R"},
     "mark": {"type": "line", "strokeWidth": 2},
     "encoding": {
      "x": {"field": "f", "type": "quantitative", "scale": {"domain": [0, 0.6], "nice": false, "zero": false}, "axis": {"orient": "bottom", "values": [0, 0.1, 0.2, 0.3, 0.4, 0.5, 0.6], "format": ".1~f", "labelFlush": false, "labelPadding": 15, "titlePadding": 2, "title": "Frequency,f/fₚ [-]"}},
      "y": {"field": "v", "type": "quantitative", "scale": {"type": "log", "domain": [8.4, 1000], "nice": false}, "axis": {"orient": "left", "values": [9, 10, 20, 30, 40, 50, 60, 70, 80, 90, 100, 200, 300, 400, 500, 600, 700, 800, 900, 1000], "labelExpr": "datum.value == 10 ? '10¹' : datum.value == 100 ? '10²' : datum.value == 1000 ? '10³' : ''", "labelPadding": 9, "titlePadding": 4, "titleFontSize": 22, "title": "Surge force PSD [(N/(kg/ms²))²]"}},
      "color": {"field": "s", "type": "nominal", "scale": {"domain": ["Experiment", "SIMA1", "SIMA2", "SIMA3", "SIMA4", "SIMA5"], "range": ["#000000", "#0000ff", "#ff00ff", "#00e600", "#ff0000", "#00ffff"]}, "legend": {"orient": "top-right", "offset": 3}},
      "strokeDash": {"field": "s", "type": "nominal", "scale": {"domain": ["Experiment", "SIMA1", "SIMA2", "SIMA3", "SIMA4", "SIMA5"], "range": [[1, 0], [9, 5], [1, 0], [9, 5], [1, 0], [9, 5]]}, "legend": {"orient": "top-right", "offset": 3}}
     }
    },
    {
     "data": {"values": [{"f": 0.1148}, {"f": 0.5766}]},
     "mark": {"type": "rule", "color": "#333", "strokeWidth": 1.6, "strokeDash": [12, 6]},
     "encoding": {"x": {"field": "f", "type": "quantitative", "axis": null}}
    },
    {
     "data": {"values": [{"f": 0.39}]},
     "mark": {"type": "rule", "color": "#333", "strokeWidth": 1, "strokeDash": [10, 5]},
     "encoding": {"x": {"field": "f", "type": "quantitative", "axis": null}}
    },
    {
     "data": {"name": "RA"},
     "mark": {"type": "rule", "color": "#111", "strokeWidth": 1.6},
     "encoding": {"x": {"field": "f", "type": "quantitative", "axis": null}, "y": {"field": "v", "type": "quantitative", "axis": null}, "x2": {"field": "f2"}, "y2": {"field": "v2"}}
    },
    {
     "data": {"name": "RT"},
     "mark": {"type": "text", "font": "Liberation Serif", "fontSize": 17.5, "color": "#222", "align": "center", "baseline": "middle"},
     "encoding": {"x": {"field": "f", "type": "quantitative", "axis": null}, "y": {"field": "v", "type": "quantitative", "axis": null}, "text": {"field": "t"}}
    },
    {
     "data": {"name": "R"},
     "mark": {"type": "point", "opacity": 0},
     "encoding": {
      "x": {"field": "f", "type": "quantitative", "axis": {"orient": "top", "values": [0.1, 0.2, 0.3, 0.4, 0.5], "labels": false, "title": null}},
      "y": {"field": "v", "type": "quantitative", "axis": {"orient": "right", "values": [9, 10, 20, 30, 40, 50, 60, 70, 80, 90, 100, 200, 300, 400, 500, 600, 700, 800, 900], "labels": false, "title": null}}
     }
    }
   ]
  }
 ]
}
